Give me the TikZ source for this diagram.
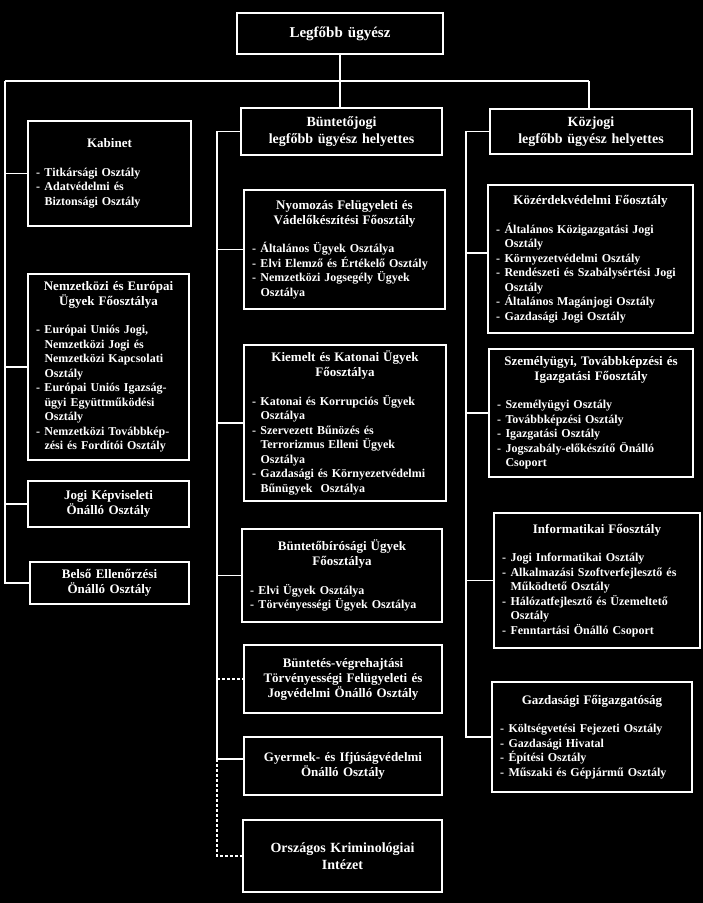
\documentclass[tikz,border=0pt]{standalone}
\usepackage{fontspec}
\setmainfont{Liberation Serif}
\usetikzlibrary{positioning}
\definecolor{Hatter}{HTML}{000000}
\definecolor{Vonal}{HTML}{FFFFFF}
\newcommand{\cim}[1]{{\centering\fontsize{13}{15}\selectfont #1\par}\vspace{14pt}}
\newcommand{\tetel}[1]{\par\hangindent=8.5pt\hangafter=1\noindent\makebox[8.5pt][l]{-}#1\par}

\begin{document}
\begin{tikzpicture}[
  x=1pt,y=-1pt,
  font=\fontsize{12}{14.5}\selectfont\bfseries,
  doboz/.style={draw=Vonal,line width=1.6pt,text=Vonal,align=left,inner xsep=8pt,inner ysep=4pt},
  kozep/.style={doboz,align=center,font=\fontsize{13}{15}\selectfont\bfseries},
  nagy/.style={doboz,align=center,font=\fontsize{14}{16.5}\selectfont\bfseries},
  vonal/.style={draw=Vonal,line width=1.3pt},
  szaggatott/.style={vonal,dash pattern=on 3pt off 2pt}
]
  \fill[Hatter] (0,0) rectangle (703,903);
  \useasboundingbox (0,0) rectangle (703,903);

  \node[nagy,text width=190pt,minimum height=41pt,font=\fontsize{15}{17}\selectfont\bfseries] (legfobb) at (340,33.5)
    {Legfőbb ügyész};
  \node[nagy,text width=185pt,minimum height=47pt] (bunteto) at (341.5,131.5)
    {Büntetőjogi\\legfőbb ügyész helyettes};
  \node[nagy,text width=186pt,minimum height=45pt] (kozjogi) at (591,131.5)
    {Közjogi\\legfőbb ügyész helyettes};

  \node[doboz,text width=147pt,minimum height=105pt] (kabinet) at (109.5,173.5)
    {\cim{Kabinet}\tetel{Titkársági Osztály}\tetel{Adatvédelmi és\newline Biztonsági Osztály}};
  \node[doboz,text width=145pt,minimum height=186pt] (nemzetkozi) at (108.5,367)
    {\cim{Nemzetközi és Európai\\Ügyek Főosztálya}%
     \tetel{Európai Uniós Jogi,\newline Nemzetközi Jogi és\newline Nemzetközi Kapcsolati\newline Osztály}%
     \tetel{Európai Uniós Igazság-\newline ügyi Együttműködési\newline Osztály}%
     \tetel{Nemzetközi Továbbkép-\newline zési és Fordítói Osztály}};
  \node[kozep,text width=145pt,minimum height=46pt] (jogikepv) at (108.5,504)
    {Jogi Képviseleti\\Önálló Osztály};
  \node[kozep,text width=143pt,minimum height=42pt] (belso) at (109.5,583)
    {Belső Ellenőrzési\\Önálló Osztály};

  \node[doboz,text width=185pt,minimum height=119pt] (nyomozas) at (344.5,249.5)
    {\cim{Nyomozás Felügyeleti és\\Vádelőkészítési Főosztály}%
     \tetel{Általános Ügyek Osztálya}%
     \tetel{Elvi Elemző és Értékelő Osztály}%
     \tetel{Nemzetközi Jogsegély Ügyek\newline Osztálya}};
  \node[doboz,text width=186pt,minimum height=156pt] (kiemelt) at (345,423)
    {\cim{Kiemelt és Katonai Ügyek\\Főosztálya}%
     \tetel{Katonai és Korrupciós Ügyek\newline Osztálya}%
     \tetel{Szervezett Bűnözés és\newline Terrorizmus Elleni Ügyek\newline Osztálya}%
     \tetel{Gazdasági és Környezetvédelmi\newline Bűnügyek\ \ Osztálya}};
  \node[doboz,text width=184pt,minimum height=93pt] (buntbir) at (342,575.5)
    {\cim{Büntetőbírósági Ügyek\\Főosztálya}%
     \tetel{Elvi Ügyek Osztálya}%
     \tetel{Törvényességi Ügyek Osztálya}};
  \node[kozep,text width=182pt,minimum height=68pt] (bv) at (343,679)
    {Büntetés-végrehajtási\\Törvényességi Felügyeleti és\\Jogvédelmi Önálló Osztály};
  \node[kozep,text width=182pt,minimum height=58pt] (gyermek) at (343,766)
    {Gyermek- és Ifjúságvédelmi\\Önálló Osztály};
  \node[nagy,text width=183pt,minimum height=72pt] (okri) at (342.5,856)
    {Országos Kriminológiai\\Intézet};

  \node[doboz,text width=189pt,minimum height=148pt] (kozerdek) at (590.5,259)
    {\cim{Közérdekvédelmi Főosztály}%
     \tetel{Általános Közigazgatási Jogi\newline Osztály}%
     \tetel{Környezetvédelmi Osztály}%
     \tetel{Rendészeti és Szabálysértési Jogi\newline Osztály}%
     \tetel{Általános Magánjogi Osztály}%
     \tetel{Gazdasági Jogi Osztály}};
  \node[doboz,text width=188pt,minimum height=128pt] (szemely) at (591,413)
    {\cim{Személyügyi, Továbbképzési és\\Igazgatási Főosztály}%
     \tetel{Személyügyi Osztály}%
     \tetel{Továbbképzési Osztály}%
     \tetel{Igazgatási Osztály}%
     \tetel{Jogszabály-előkészítő Önálló\newline Csoport}};
  \node[doboz,text width=190pt,minimum height=135pt] (informatikai) at (597,580.5)
    {\cim{Informatikai Főosztály}%
     \tetel{Jogi Informatikai Osztály}%
     \tetel{Alkalmazási Szoftverfejlesztő és\newline Működtető Osztály}%
     \tetel{Hálózatfejlesztő és Üzemeltető\newline Osztály}%
     \tetel{Fenntartási Önálló Csoport}};
  \node[doboz,text width=184pt,minimum height=110pt] (gazdasagi) at (592,737)
    {\cim{Gazdasági Főigazgatóság}%
     \tetel{Költségvetési Fejezeti Osztály}%
     \tetel{Gazdasági Hivatal}%
     \tetel{Építési Osztály}%
     \tetel{Műszaki és Gépjármű Osztály}};

  \coordinate (bal) at (5,81);
  \coordinate (jobb) at (589,81);
  \coordinate (kozepalja) at (217,759);
  \coordinate (jobbalja) at (466,737);
  \coordinate (gy) at ([yshift=7pt]gyermek.west);
  \coordinate (ke) at ([yshift=6pt]kozerdek.west);

  \draw[vonal] (bal) -- (jobb);
  \draw[vonal] (legfobb.south) -- (legfobb.south |- bunteto.north);
  \draw[vonal] (jobb) -- (jobb |- kozjogi.north);

  \draw[vonal] (bal) |- (belso.west);
  \foreach \n in {kabinet,nemzetkozi,jogikepv}
    \draw[vonal] (bal |- \n.west) -- (\n.west);

  \draw[vonal] (bunteto.west) -| (kozepalja) -- (gy);
  \foreach \n in {nyomozas,kiemelt,buntbir}
    \draw[vonal] (kozepalja |- \n.west) -- (\n.west);
  \draw[szaggatott] (kozepalja |- bv.west) -- (bv.west);
  \draw[szaggatott] (kozepalja) |- (okri.west);

  \draw[vonal] (kozjogi.west) -| (jobbalja) -- (gazdasagi.west);
  \draw[vonal] (jobbalja |- ke) -- (ke);
  \foreach \n in {szemely,informatikai}
    \draw[vonal] (jobbalja |- \n.west) -- (\n.west);
\end{tikzpicture}
\end{document}
